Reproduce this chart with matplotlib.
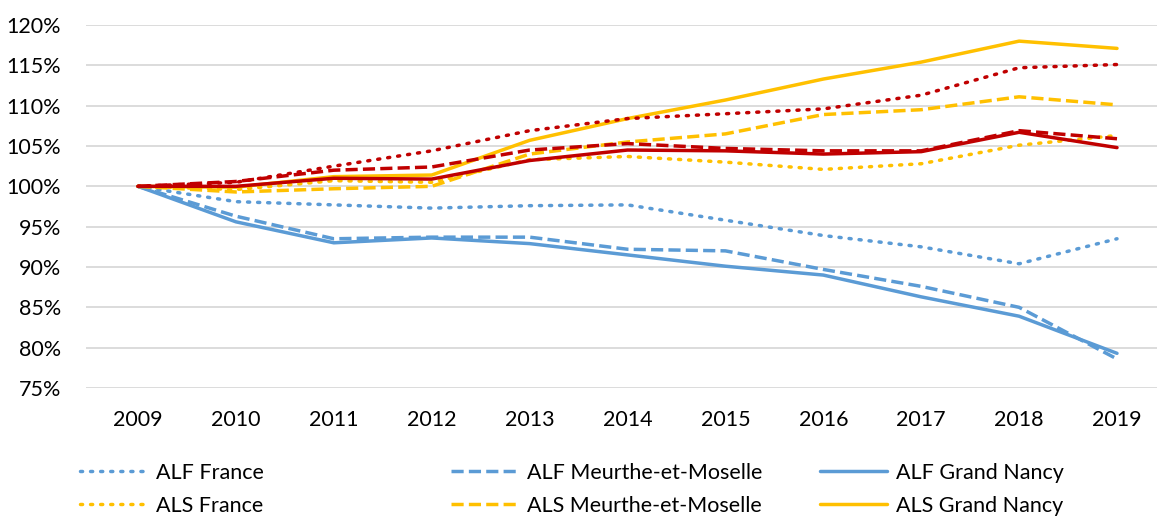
import matplotlib
matplotlib.use("Agg")
import matplotlib.pyplot as plt
from matplotlib.ticker import FuncFormatter

years = [2009, 2010, 2011, 2012, 2013, 2014, 2015, 2016, 2017, 2018, 2019]

alf_france = [100, 98.1, 97.7, 97.3, 97.6, 97.7, 95.8, 93.9, 92.5, 90.4, 93.5]
alf_mm = [100, 96.3, 93.5, 93.7, 93.7, 92.2, 92.0, 89.7, 87.6, 85.0, 78.6]
alf_gn = [100, 95.6, 93.0, 93.6, 92.9, 91.5, 90.1, 89.0, 86.3, 83.9, 79.3]

als_france = [100, 99.6, 100.7, 100.5, 103.3, 103.7, 103.0, 102.1, 102.8, 105.1, 106.3]
als_mm = [100, 99.3, 99.7, 100.0, 104.0, 105.5, 106.5, 108.9, 109.5, 111.1, 110.1]
als_gn = [100, 99.9, 101.2, 101.4, 105.7, 108.4, 110.7, 113.3, 115.4, 118.0, 117.1]

red_france = [100, 100.5, 102.5, 104.4, 106.9, 108.4, 109.0, 109.6, 111.3, 114.7, 115.1]
red_mm = [100, 100.6, 102.0, 102.4, 104.5, 105.3, 104.7, 104.4, 104.4, 106.9, 105.9]
red_gn = [100, 100.0, 101.0, 100.9, 103.2, 104.5, 104.4, 104.0, 104.3, 106.7, 104.8]

labels_alf = ["ALF France", "ALF Meurthe-et-Moselle", "ALF Grand Nancy"]
labels_als = ["ALS France", "ALS Meurthe-et-Moselle", "ALS Grand Nancy"]

BLUE = "#5B9BD5"
YELLOW = "#FFC000"
RED = "#C00000"

plt.rcParams['font.family'] = ['Lato', 'DejaVu Sans']
FS = 15.5

W, H = 1157, 518
fig = plt.figure(figsize=(W / 100, H / 100), dpi=100)
ax = fig.add_axes([86 / W, 1 - 388 / H, (1157 - 86) / W, (388 - 25) / H])

lw = 2.5
dotted = (0, (0.6, 2.3))
dashed = (0, (3.5, 1.5))
styles = [dotted, dashed, '-']


def draw(data, color, ls, label=None, z=3):
    l, = ax.plot(years, data, color=color, lw=lw, ls=ls,
                 dash_capstyle='round' if ls is dotted else 'butt',
                 solid_capstyle='round', label=label, zorder=z)
    return l


handles_alf = [draw(d, BLUE, ls, lab) for d, ls, lab in zip([alf_france, alf_mm, alf_gn], styles, labels_alf)]
handles_als = [draw(d, YELLOW, ls, lab) for d, ls, lab in zip([als_france, als_mm, als_gn], styles, labels_als)]
for d, ls in zip([red_france, red_mm, red_gn], styles):
    draw(d, RED, ls, z=4)

ax.set_ylim(75, 120)
ax.set_yticks(range(75, 121, 5))
ax.yaxis.set_major_formatter(FuncFormatter(lambda v, p: f"{int(round(v))}%"))
ax.set_xlim(2009 - 52 / 97.9, 2019 + 40 / 97.9)
ax.set_xticks(years)
ax.set_xticklabels([str(y) for y in years])
ax.grid(axis='y', color='#D9D9D9', lw=1.3)
ax.set_axisbelow(True)
for s in ax.spines.values():
    s.set_visible(False)
ax.tick_params(axis='both', length=0, labelsize=FS, colors='#000000')
ax.tick_params(axis='y', pad=18)
ax.tick_params(axis='x', pad=16)

col_x = [80, 451, 820]
for i in range(3):
    fig.legend([handles_alf[i], handles_als[i]], [labels_alf[i], labels_als[i]],
               loc='upper left', bbox_to_anchor=(col_x[i] / W, 1 - 463 / H),
               frameon=False, fontsize=FS, handlelength=3.1, handletextpad=0.45,
               labelspacing=0.6, borderpad=0, borderaxespad=0)

fig.savefig("out.png", dpi=100, facecolor='white')
